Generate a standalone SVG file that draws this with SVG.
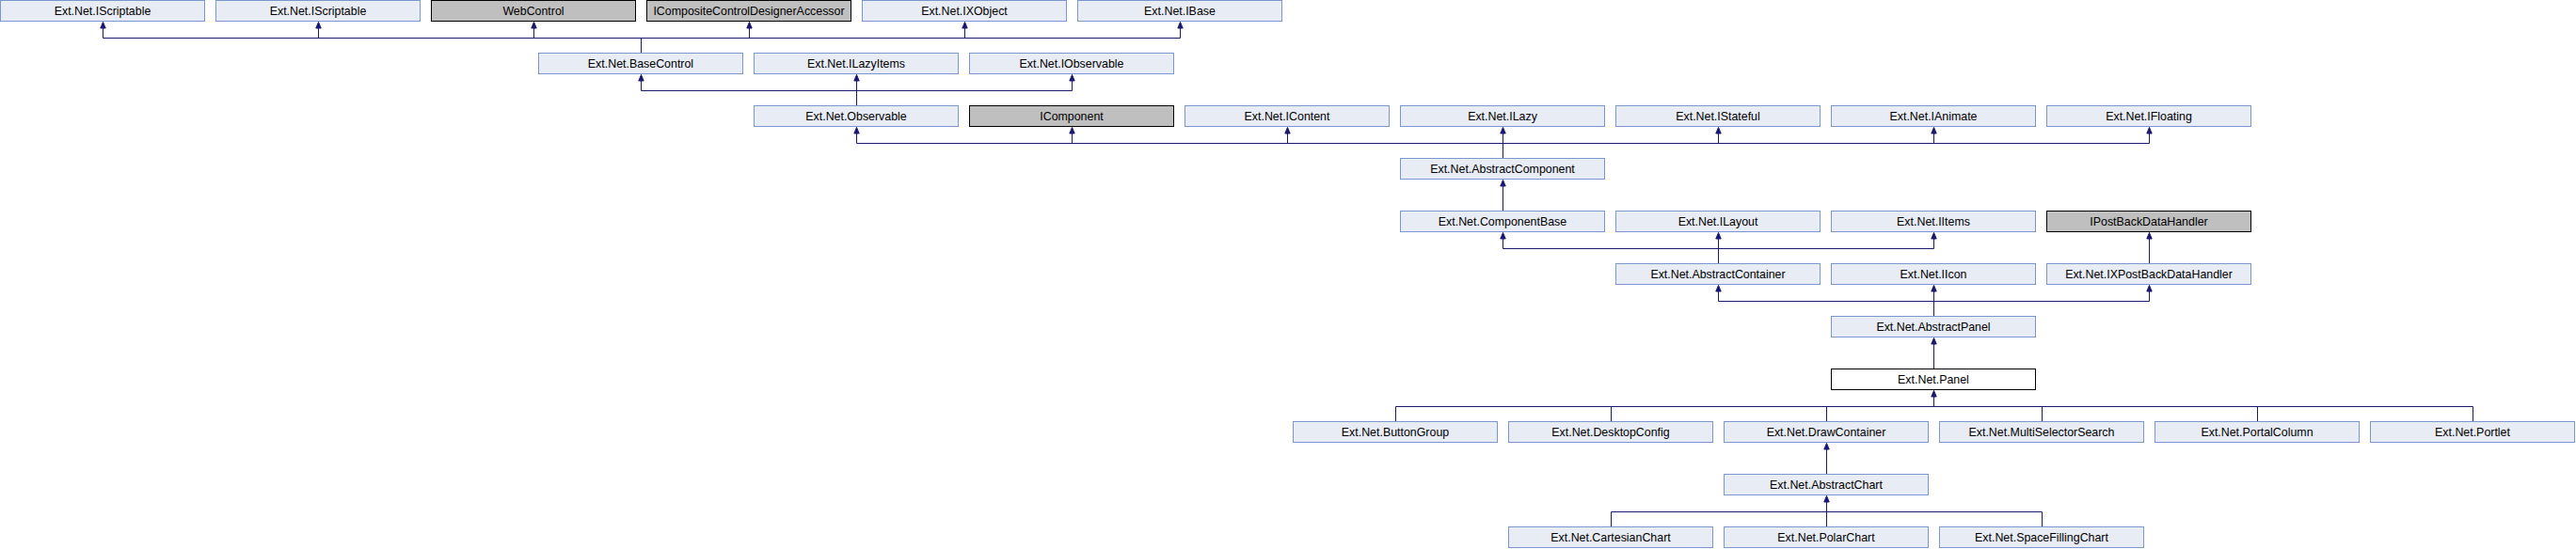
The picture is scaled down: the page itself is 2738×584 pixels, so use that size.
<svg xmlns="http://www.w3.org/2000/svg" width="2738" height="584" viewBox="0 0 2738 584">
<style>
rect{stroke-width:1}
.n rect{fill:#e8ecf4;stroke:#7b96cf}
.g rect{fill:#bfbfbf;stroke:#000}
.w rect{fill:#fff;stroke:#000}
text{font-family:"Liberation Sans",Arial,sans-serif;font-size:12.4px;text-anchor:middle;fill:#000}
#edges path{fill:none;stroke:#191970;stroke-width:1}
#edges polygon{fill:#191970;stroke:#191970;stroke-width:1}
</style>
<rect width="2738" height="584" fill="#fff"/>
<g id="edges">
<path d="M109.5 30V40.5H1254.5V30M338.5 30V40.5M567.5 30V40.5M796.5 30V40.5M1025.5 30V40.5M681.5 40.5V56"/>
<polygon points="109.5,23.5 106.8,30 112.2,30"/><polygon points="338.5,23.5 335.8,30 341.2,30"/><polygon points="567.5,23.5 564.8,30 570.2,30"/><polygon points="796.5,23.5 793.8,30 799.2,30"/><polygon points="1025.5,23.5 1022.8,30 1028.2,30"/><polygon points="1254.5,23.5 1251.8,30 1257.2,30"/>
<path d="M681.5 86V96.5H1139.5V86M910.5 86V112"/>
<polygon points="681.5,79.5 678.8,86 684.2,86"/><polygon points="910.5,79.5 907.8,86 913.2,86"/><polygon points="1139.5,79.5 1136.8,86 1142.2,86"/>
<path d="M910.5 142V152.5H2284.5V142M1139.5 142V152.5M1368.5 142V152.5M1597.5 142V168M1826.5 142V152.5M2055.5 142V152.5"/>
<polygon points="910.5,135.5 907.8,142 913.2,142"/><polygon points="1139.5,135.5 1136.8,142 1142.2,142"/><polygon points="1368.5,135.5 1365.8,142 1371.2,142"/><polygon points="1597.5,135.5 1594.8,142 1600.2,142"/><polygon points="1826.5,135.5 1823.8,142 1829.2,142"/><polygon points="2055.5,135.5 2052.8,142 2058.2,142"/><polygon points="2284.5,135.5 2281.8,142 2287.2,142"/>
<path d="M1597.5 198V224"/>
<polygon points="1597.5,191.5 1594.8,198 1600.2,198"/>
<path d="M1597.5 254V264.5H2055.5V254M1826.5 254V280M2284.5 254V280"/>
<polygon points="1597.5,247.5 1594.8,254 1600.2,254"/><polygon points="1826.5,247.5 1823.8,254 1829.2,254"/><polygon points="2055.5,247.5 2052.8,254 2058.2,254"/><polygon points="2284.5,247.5 2281.8,254 2287.2,254"/>
<path d="M1826.5 310V320.5H2284.5V310M2055.5 310V336"/>
<polygon points="1826.5,303.5 1823.8,310 1829.2,310"/><polygon points="2055.5,303.5 2052.8,310 2058.2,310"/><polygon points="2284.5,303.5 2281.8,310 2287.2,310"/>
<path d="M2055.5 366V392"/>
<polygon points="2055.5,359.5 2052.8,366 2058.2,366"/>
<path d="M2055.5 422V432.5M1483.5 448V432.5H2628.5V448M1712.5 432.5V448M1941.5 432.5V448M2170.5 432.5V448M2399.5 432.5V448"/>
<polygon points="2055.5,415.5 2052.8,422 2058.2,422"/>
<path d="M1941.5 478V504"/>
<polygon points="1941.5,471.5 1938.8,478 1944.2,478"/>
<path d="M1941.5 534V560M1712.5 560V544.5H2170.5V560"/>
<polygon points="1941.5,527.5 1938.8,534 1944.2,534"/>
</g>
<g id="n_IScriptable1" class="n"><rect x="0.5" y="0.5" width="217" height="22"/><text x="109" y="15.5">Ext.Net.IScriptable</text></g>
<g id="n_IScriptable2" class="n"><rect x="229.5" y="0.5" width="217" height="22"/><text x="338" y="15.5">Ext.Net.IScriptable</text></g>
<g id="n_WebControl" class="g"><rect x="458.5" y="0.5" width="217" height="22"/><text x="567" y="15.5">WebControl</text></g>
<g id="n_ICCDA" class="g"><rect x="687.5" y="0.5" width="217" height="22"/><text x="796" y="15.5">ICompositeControlDesignerAccessor</text></g>
<g id="n_IXObject" class="n"><rect x="916.5" y="0.5" width="217" height="22"/><text x="1025" y="15.5">Ext.Net.IXObject</text></g>
<g id="n_IBase" class="n"><rect x="1145.5" y="0.5" width="217" height="22"/><text x="1254" y="15.5">Ext.Net.IBase</text></g>
<g id="n_BaseControl" class="n"><rect x="572.5" y="56.5" width="217" height="22"/><text x="681" y="71.5">Ext.Net.BaseControl</text></g>
<g id="n_ILazyItems" class="n"><rect x="801.5" y="56.5" width="217" height="22"/><text x="910" y="71.5">Ext.Net.ILazyItems</text></g>
<g id="n_IObservable" class="n"><rect x="1030.5" y="56.5" width="217" height="22"/><text x="1139" y="71.5">Ext.Net.IObservable</text></g>
<g id="n_Observable" class="n"><rect x="801.5" y="112.5" width="217" height="22"/><text x="910" y="127.5">Ext.Net.Observable</text></g>
<g id="n_IComponent" class="g"><rect x="1030.5" y="112.5" width="217" height="22"/><text x="1139" y="127.5">IComponent</text></g>
<g id="n_IContent" class="n"><rect x="1259.5" y="112.5" width="217" height="22"/><text x="1368" y="127.5">Ext.Net.IContent</text></g>
<g id="n_ILazy" class="n"><rect x="1488.5" y="112.5" width="217" height="22"/><text x="1597" y="127.5">Ext.Net.ILazy</text></g>
<g id="n_IStateful" class="n"><rect x="1717.5" y="112.5" width="217" height="22"/><text x="1826" y="127.5">Ext.Net.IStateful</text></g>
<g id="n_IAnimate" class="n"><rect x="1946.5" y="112.5" width="217" height="22"/><text x="2055" y="127.5">Ext.Net.IAnimate</text></g>
<g id="n_IFloating" class="n"><rect x="2175.5" y="112.5" width="217" height="22"/><text x="2284" y="127.5">Ext.Net.IFloating</text></g>
<g id="n_AbstractComponent" class="n"><rect x="1488.5" y="168.5" width="217" height="22"/><text x="1597" y="183.5">Ext.Net.AbstractComponent</text></g>
<g id="n_ComponentBase" class="n"><rect x="1488.5" y="224.5" width="217" height="22"/><text x="1597" y="239.5">Ext.Net.ComponentBase</text></g>
<g id="n_ILayout" class="n"><rect x="1717.5" y="224.5" width="217" height="22"/><text x="1826" y="239.5">Ext.Net.ILayout</text></g>
<g id="n_IItems" class="n"><rect x="1946.5" y="224.5" width="217" height="22"/><text x="2055" y="239.5">Ext.Net.IItems</text></g>
<g id="n_IPostBackDataHandler" class="g"><rect x="2175.5" y="224.5" width="217" height="22"/><text x="2284" y="239.5">IPostBackDataHandler</text></g>
<g id="n_AbstractContainer" class="n"><rect x="1717.5" y="280.5" width="217" height="22"/><text x="1826" y="295.5">Ext.Net.AbstractContainer</text></g>
<g id="n_IIcon" class="n"><rect x="1946.5" y="280.5" width="217" height="22"/><text x="2055" y="295.5">Ext.Net.IIcon</text></g>
<g id="n_IXPostBackDataHandler" class="n"><rect x="2175.5" y="280.5" width="217" height="22"/><text x="2284" y="295.5">Ext.Net.IXPostBackDataHandler</text></g>
<g id="n_AbstractPanel" class="n"><rect x="1946.5" y="336.5" width="217" height="22"/><text x="2055" y="351.5">Ext.Net.AbstractPanel</text></g>
<g id="n_Panel" class="w"><rect x="1946.5" y="392.5" width="217" height="22"/><text x="2055" y="407.5">Ext.Net.Panel</text></g>
<g id="n_ButtonGroup" class="n"><rect x="1374.5" y="448.5" width="217" height="22"/><text x="1483" y="463.5">Ext.Net.ButtonGroup</text></g>
<g id="n_DesktopConfig" class="n"><rect x="1603.5" y="448.5" width="217" height="22"/><text x="1712" y="463.5">Ext.Net.DesktopConfig</text></g>
<g id="n_DrawContainer" class="n"><rect x="1832.5" y="448.5" width="217" height="22"/><text x="1941" y="463.5">Ext.Net.DrawContainer</text></g>
<g id="n_MultiSelectorSearch" class="n"><rect x="2061.5" y="448.5" width="217" height="22"/><text x="2170" y="463.5">Ext.Net.MultiSelectorSearch</text></g>
<g id="n_PortalColumn" class="n"><rect x="2290.5" y="448.5" width="217" height="22"/><text x="2399" y="463.5">Ext.Net.PortalColumn</text></g>
<g id="n_Portlet" class="n"><rect x="2519.5" y="448.5" width="217" height="22"/><text x="2628" y="463.5">Ext.Net.Portlet</text></g>
<g id="n_AbstractChart" class="n"><rect x="1832.5" y="504.5" width="217" height="22"/><text x="1941" y="519.5">Ext.Net.AbstractChart</text></g>
<g id="n_CartesianChart" class="n"><rect x="1603.5" y="560.5" width="217" height="22"/><text x="1712" y="575.5">Ext.Net.CartesianChart</text></g>
<g id="n_PolarChart" class="n"><rect x="1832.5" y="560.5" width="217" height="22"/><text x="1941" y="575.5">Ext.Net.PolarChart</text></g>
<g id="n_SpaceFillingChart" class="n"><rect x="2061.5" y="560.5" width="217" height="22"/><text x="2170" y="575.5">Ext.Net.SpaceFillingChart</text></g>
</svg>
